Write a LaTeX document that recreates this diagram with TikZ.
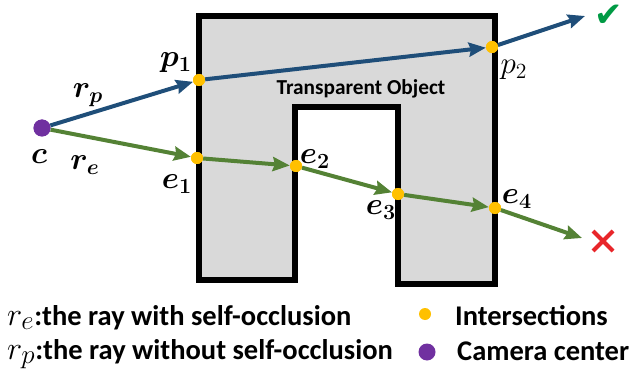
\documentclass[tikz,border=0pt]{standalone}
\usepackage{amsmath}
\usepackage{bm}
\usepackage{fontspec}
\setmainfont{Carlito}
\newfontfamily\symfont{DejaVu Sans}
\usetikzlibrary{arrows.meta}
\definecolor{rayblue}{HTML}{1F4E79}
\definecolor{raygreen}{HTML}{548235}
\definecolor{dotyellow}{HTML}{FFC000}
\definecolor{dotpurple}{HTML}{7030A0}
\definecolor{objgray}{HTML}{D9D9D9}
\definecolor{okgreen}{HTML}{009A44}
\definecolor{badred}{HTML}{E8262A}
\tikzset{
  ydot/.style={circle,fill=dotyellow,inner sep=0pt,minimum size=12pt},
  pdot/.style={circle,fill=dotpurple,inner sep=0pt,minimum size=17pt},
  bray/.style={draw=rayblue,line width=4pt,-{Stealth[length=17pt,width=14pt,inset=2pt]}},
  gray/.style={draw=raygreen,line width=4pt,-{Stealth[length=17pt,width=14pt,inset=2pt]}},
  lab/.style={inner sep=0pt,font=\fontsize{20.74}{24}\selectfont,scale=1.5},
  legtext/.style={inner sep=0pt,anchor=base west,font=\fontsize{28.5}{33}\selectfont\bfseries},
}
\newcommand{\legmath}[1]{\scalebox{1.3}{$#1$}}
\begin{document}
\begin{tikzpicture}[x=1pt,y=-1pt]
\useasboundingbox (0,0) rectangle (631,374);
% object
\draw[line width=6pt,fill=objgray,line join=miter]
  (199,16) -- (495,16) -- (495,284) -- (398,284) -- (398,107) -- (295,107)
  -- (295,280) -- (199,280) -- cycle;
\node[inner sep=0pt,font=\fontsize{21.3}{24}\selectfont\bfseries] (title) at (361,89) {Transparent Object};
% points
\node[pdot] (c) at (42,128) {};
\node[ydot] (p1) at (199,80) {};
\node[ydot] (p2) at (492,47) {};
\node[ydot] (e1) at (197,158) {};
\node[ydot] (e2) at (296,166) {};
\node[ydot] (e3) at (398,194) {};
\node[ydot] (e4) at (495,208) {};
\coordinate (bend) at (585,16);
\coordinate (gend) at (582,238);
% rays
\draw[bray] (c) -- (p1);
\draw[bray] (p1) -- (p2);
\draw[bray] (p2) -- (bend);
\draw[gray] (c) -- (e1);
\draw[gray] (e1) -- (e2);
\draw[gray] (e2) -- (e3);
\draw[gray] (e3) -- (e4);
\draw[gray] (e4) -- (gend);
% redraw dots on top
\node[pdot] at (c) {};
\foreach \n in {p1,p2,e1,e2,e3,e4} \node[ydot] at (\n) {};
% labels
\node[lab] (lp1) at (176,63) {$\bm{p_1}$};
\node[lab] (lrp) at (88,95) {$\bm{r_p}$};
\node[lab] (lc) at (39,157) {$\bm{c}$};
\node[lab] (lre) at (85,165) {$\bm{r_e}$};
\node[lab] (le1) at (177,184) {$\bm{e_1}$};
\node[lab] (le2) at (315,159) {$\bm{e_2}$};
\node[lab] (le3) at (381,210) {$\bm{e_3}$};
\node[lab] (le4) at (517,199) {$\bm{e_4}$};
\node[lab] (lp2) at (514,70) {$p_2$};
\node[inner sep=0pt,text=okgreen,font=\symfont\fontsize{34}{36}\selectfont] (ok) at (609,16) {✔};
\draw[badred,line width=4pt] (593,231) -- (613,251) (613,231) -- (593,251);
% legend
\node[legtext] (l1) at (7,325) {\legmath{r_e}:the ray with self-occlusion};
\node[legtext] (l2) at (7,359) {\legmath{r_p}:the ray without self-occlusion};
\node[circle,fill=dotyellow,inner sep=0pt,minimum size=12pt] (ly) at (425,314) {};
\node[legtext] (l3) at (455,325) {Intersections};
\node[pdot] (lpu) at (427,352) {};
\node[legtext] (l4) at (457,360) {Camera center};
\end{tikzpicture}
\end{document}
